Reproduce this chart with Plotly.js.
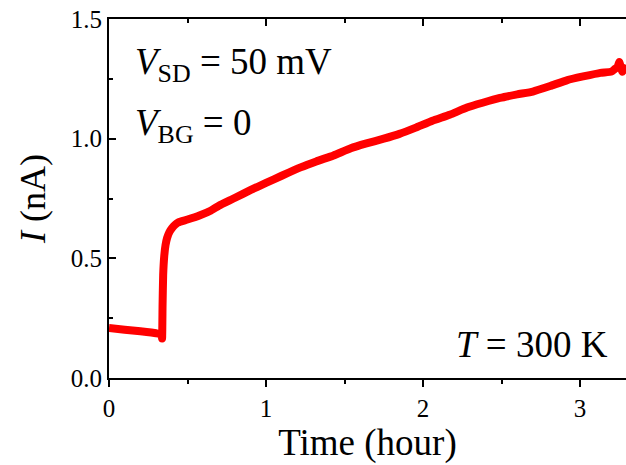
<!DOCTYPE html>
<html>
<head>
<meta charset="utf-8">
<script src="https://cdn.plot.ly/plotly-3.0.1.min.js"></script>
<style>html,body{margin:0;padding:0;background:#fff;}#chart{width:626px;height:465px;}</style>
</head>
<body>
<div id="chart"></div>
<script>
// Time (hour) and current I (nA)
const timeHour = [0, 0.1, 0.2, 0.3, 0.334, 0.338, 0.341, 0.345, 0.352, 0.36, 0.37, 0.385, 0.40, 0.42, 0.44, 0.5, 0.58, 0.65, 0.7, 0.8, 0.9, 1.0, 1.1, 1.22, 1.32, 1.43, 1.54, 1.64, 1.75, 1.85, 1.95, 2.06, 2.17, 2.28, 2.38, 2.49, 2.6, 2.7, 2.81, 2.92, 3.02, 3.13, 3.2, 3.22, 3.24, 3.25, 3.27, 3.29];
const currentNA = [0.209, 0.202, 0.195, 0.187, 0.182, 0.165, 0.30, 0.43, 0.51, 0.555, 0.585, 0.61, 0.625, 0.64, 0.65, 0.662, 0.68, 0.70, 0.72, 0.752, 0.785, 0.815, 0.845, 0.88, 0.905, 0.93, 0.96, 0.98, 1.0, 1.02, 1.045, 1.075, 1.10, 1.13, 1.15, 1.17, 1.185, 1.197, 1.22, 1.245, 1.26, 1.275, 1.28, 1.29, 1.30, 1.32, 1.28, 1.31];
const xTicks = [0, 1, 2, 3];
const yTicks = [0, 0.5, 1.0, 1.5];
const yTickText = ["0.0", "0.5", "1.0", "1.5"];

const serif = "Liberation Serif, Times New Roman, serif";

const traces = [
  {x: timeHour, y: currentNA, type: "scatter", mode: "lines",
   line: {color: "#ff0000", width: 8, shape: "spline", smoothing: 0.4}, hoverinfo: "skip", showlegend: false},
  {x: [], y: [], xaxis: "x2", yaxis: "y", type: "scatter", mode: "lines", showlegend: false}
];

const layout = {
  width: 626, height: 465,
  margin: {l: 109, r: 0, t: 19, b: 87},
  paper_bgcolor: "#fff", plot_bgcolor: "#fff",
  font: {family: serif, color: "#000"},
  showlegend: false,
  xaxis: {
    range: [0, 3.293], tickvals: xTicks, ticks: "outside", ticklen: 7, tickwidth: 2, tickcolor: "#000",
    minor: {dtick: 0.5, tick0: 0, ticks: "outside", ticklen: 4, tickwidth: 2, tickcolor: "#000"},
    showline: true, linewidth: 2, linecolor: "#000", showgrid: false, zeroline: false,
    tickfont: {size: 25, family: serif},
    title: {text: "Time (hour)", font: {size: 37, family: serif}, standoff: 8},
    automargin: false
  },
  xaxis2: {
    range: [0, 3.293], overlaying: "x", side: "top", tickvals: xTicks, ticks: "inside", ticklen: 7, tickwidth: 2, tickcolor: "#000",
    minor: {dtick: 0.5, tick0: 0, ticks: "inside", ticklen: 4, tickwidth: 2, tickcolor: "#000"},
    showline: true, linewidth: 2, linecolor: "#000", showgrid: false, zeroline: false,
    showticklabels: false, automargin: false
  },
  yaxis: {
    range: [0, 1.5], tickvals: yTicks, ticktext: yTickText, ticks: "inside", ticklen: 7, tickwidth: 2, tickcolor: "#000",
    minor: {dtick: 0.25, tick0: 0, ticks: "inside", ticklen: 4, tickwidth: 2, tickcolor: "#000"},
    showline: true, linewidth: 2, linecolor: "#000", showgrid: false, zeroline: false,
    tickfont: {size: 25, family: serif},
    title: {text: "<i>I</i> (nA)", font: {size: 36, family: serif}, standoff: 14},
    automargin: false
  },
  annotations: [
    {xref: "paper", yref: "paper", x: 0.046, y: 0.945, xanchor: "left", yanchor: "top", showarrow: false,
     text: "<i>V</i><sub>SD</sub> = 50 mV", font: {size: 37, family: serif}},
    {xref: "paper", yref: "paper", x: 0.046, y: 0.775, xanchor: "left", yanchor: "top", showarrow: false,
     text: "<i>V</i><sub>BG</sub> = 0", font: {size: 37, family: serif}},
    {xref: "paper", yref: "paper", x: 0.97, y: 0.03, xanchor: "right", yanchor: "bottom", showarrow: false,
     text: "<i>T</i> = 300 K", font: {size: 37, family: serif}}
  ]
};

Plotly.newPlot("chart", traces, layout, {staticPlot: true, displayModeBar: false});
</script>
</body>
</html>
